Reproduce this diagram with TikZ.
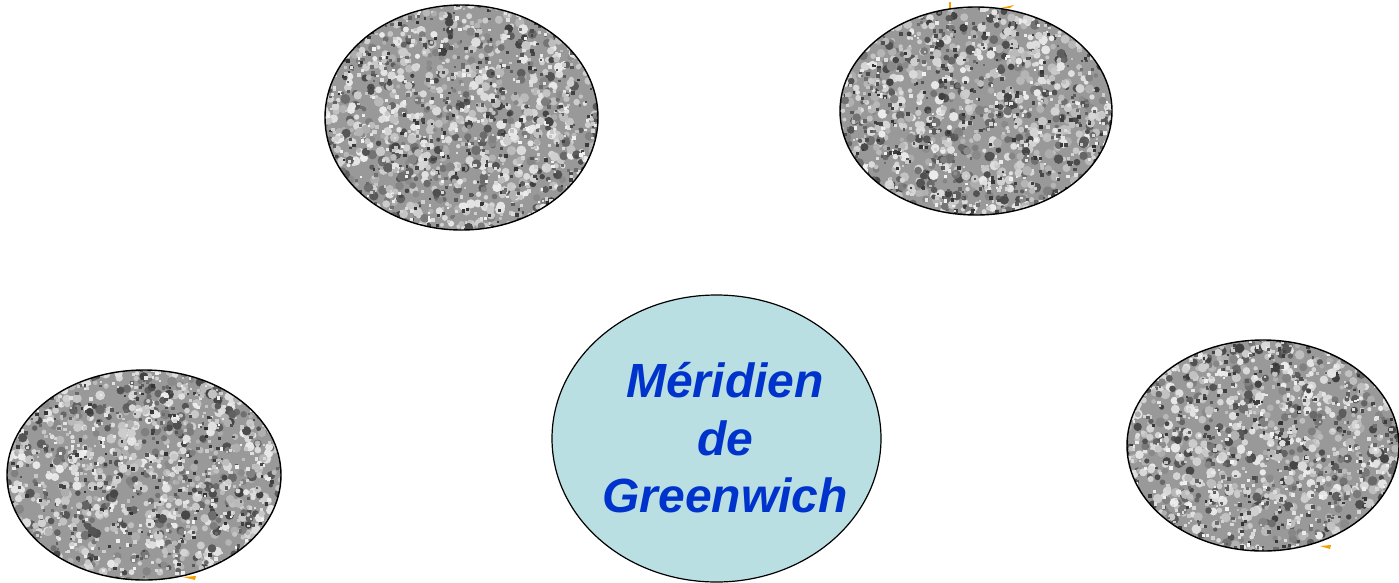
\documentclass[tikz,border=0pt]{standalone}
\usepackage{fontspec}
\setmainfont{Liberation Sans}
\usetikzlibrary{shapes.geometric}
\definecolor{meridfill}{HTML}{B9DFE2}
\definecolor{meridtext}{HTML}{0033CC}
\definecolor{markorange}{HTML}{F5A000}
\tikzset{
  granite/.style={ellipse, draw=black, line width=1.4pt, fill=black!40, inner sep=0pt,
    path picture={
      \begin{scope}[shift={(path picture bounding box.center)}]
        \foreach \i in {1,...,1100}{
          \pgfmathsetmacro\gx{145*rand}
          \pgfmathsetmacro\gy{118*rand}
          \pgfmathsetmacro\gc{random(0,10)<7 ? random(8,32) : random(45,75)}
          \pgfmathsetmacro\gr{2+3*rnd}
          \fill[black!\gc] (\gx,\gy) circle (\gr);
        }
        \foreach \i in {1,...,900}{
          \pgfmathsetmacro\gx{145*rand}
          \pgfmathsetmacro\gy{118*rand}
          \pgfmathsetmacro\gc{random(0,10)<6 ? random(5,25) : random(55,80)}
          \pgfmathsetmacro\gs{2+2*rnd}
          \fill[black!\gc] (\gx,\gy) rectangle ++(\gs,\gs);
        }
      \end{scope}
    }},
  merid/.style={ellipse, draw=black, line width=1.2pt, fill=meridfill, inner sep=0pt,
    minimum width=329, minimum height=287},
  meridlabel/.style={text=meridtext, font=\fontsize{48}{57.5}\selectfont\bfseries\itshape,
    align=center, inner sep=0pt},
  mark/.style={fill=markorange, draw=none}
}
\begin{document}
\begin{tikzpicture}[x=1pt,y=-1pt]
\pgfmathsetseed{4242}
\useasboundingbox (0,0) rectangle (1399,582);
% small orange slivers
\fill[markorange] (949,2) -- (951,2) -- (951,9) -- (949,9) -- cycle;
\fill[markorange] (996,9) -- (1014,5) -- (1010,8) -- cycle;
\fill[markorange] (183,577) -- (196,576) -- (195,580) -- cycle;
\fill[markorange] (1320,546) -- (1331,545) -- (1330,549) -- cycle;
% granite ellipses
\node[granite, minimum width=273, minimum height=225] (tl) at (461.5,117.5) {};
\node[granite, minimum width=272, minimum height=208] (tr) at (976,111) {};
\node[granite, minimum width=274, minimum height=210] (bl) at (144,475) {};
\node[granite, minimum width=272, minimum height=211] (br) at (1263,445.5) {};
% central ellipse
\node[merid] (g) at (716.5,438.5) {};
\node[meridlabel] (gt) at (725,438) {Méridien\\de\\Greenwich};
\end{tikzpicture}
\end{document}
